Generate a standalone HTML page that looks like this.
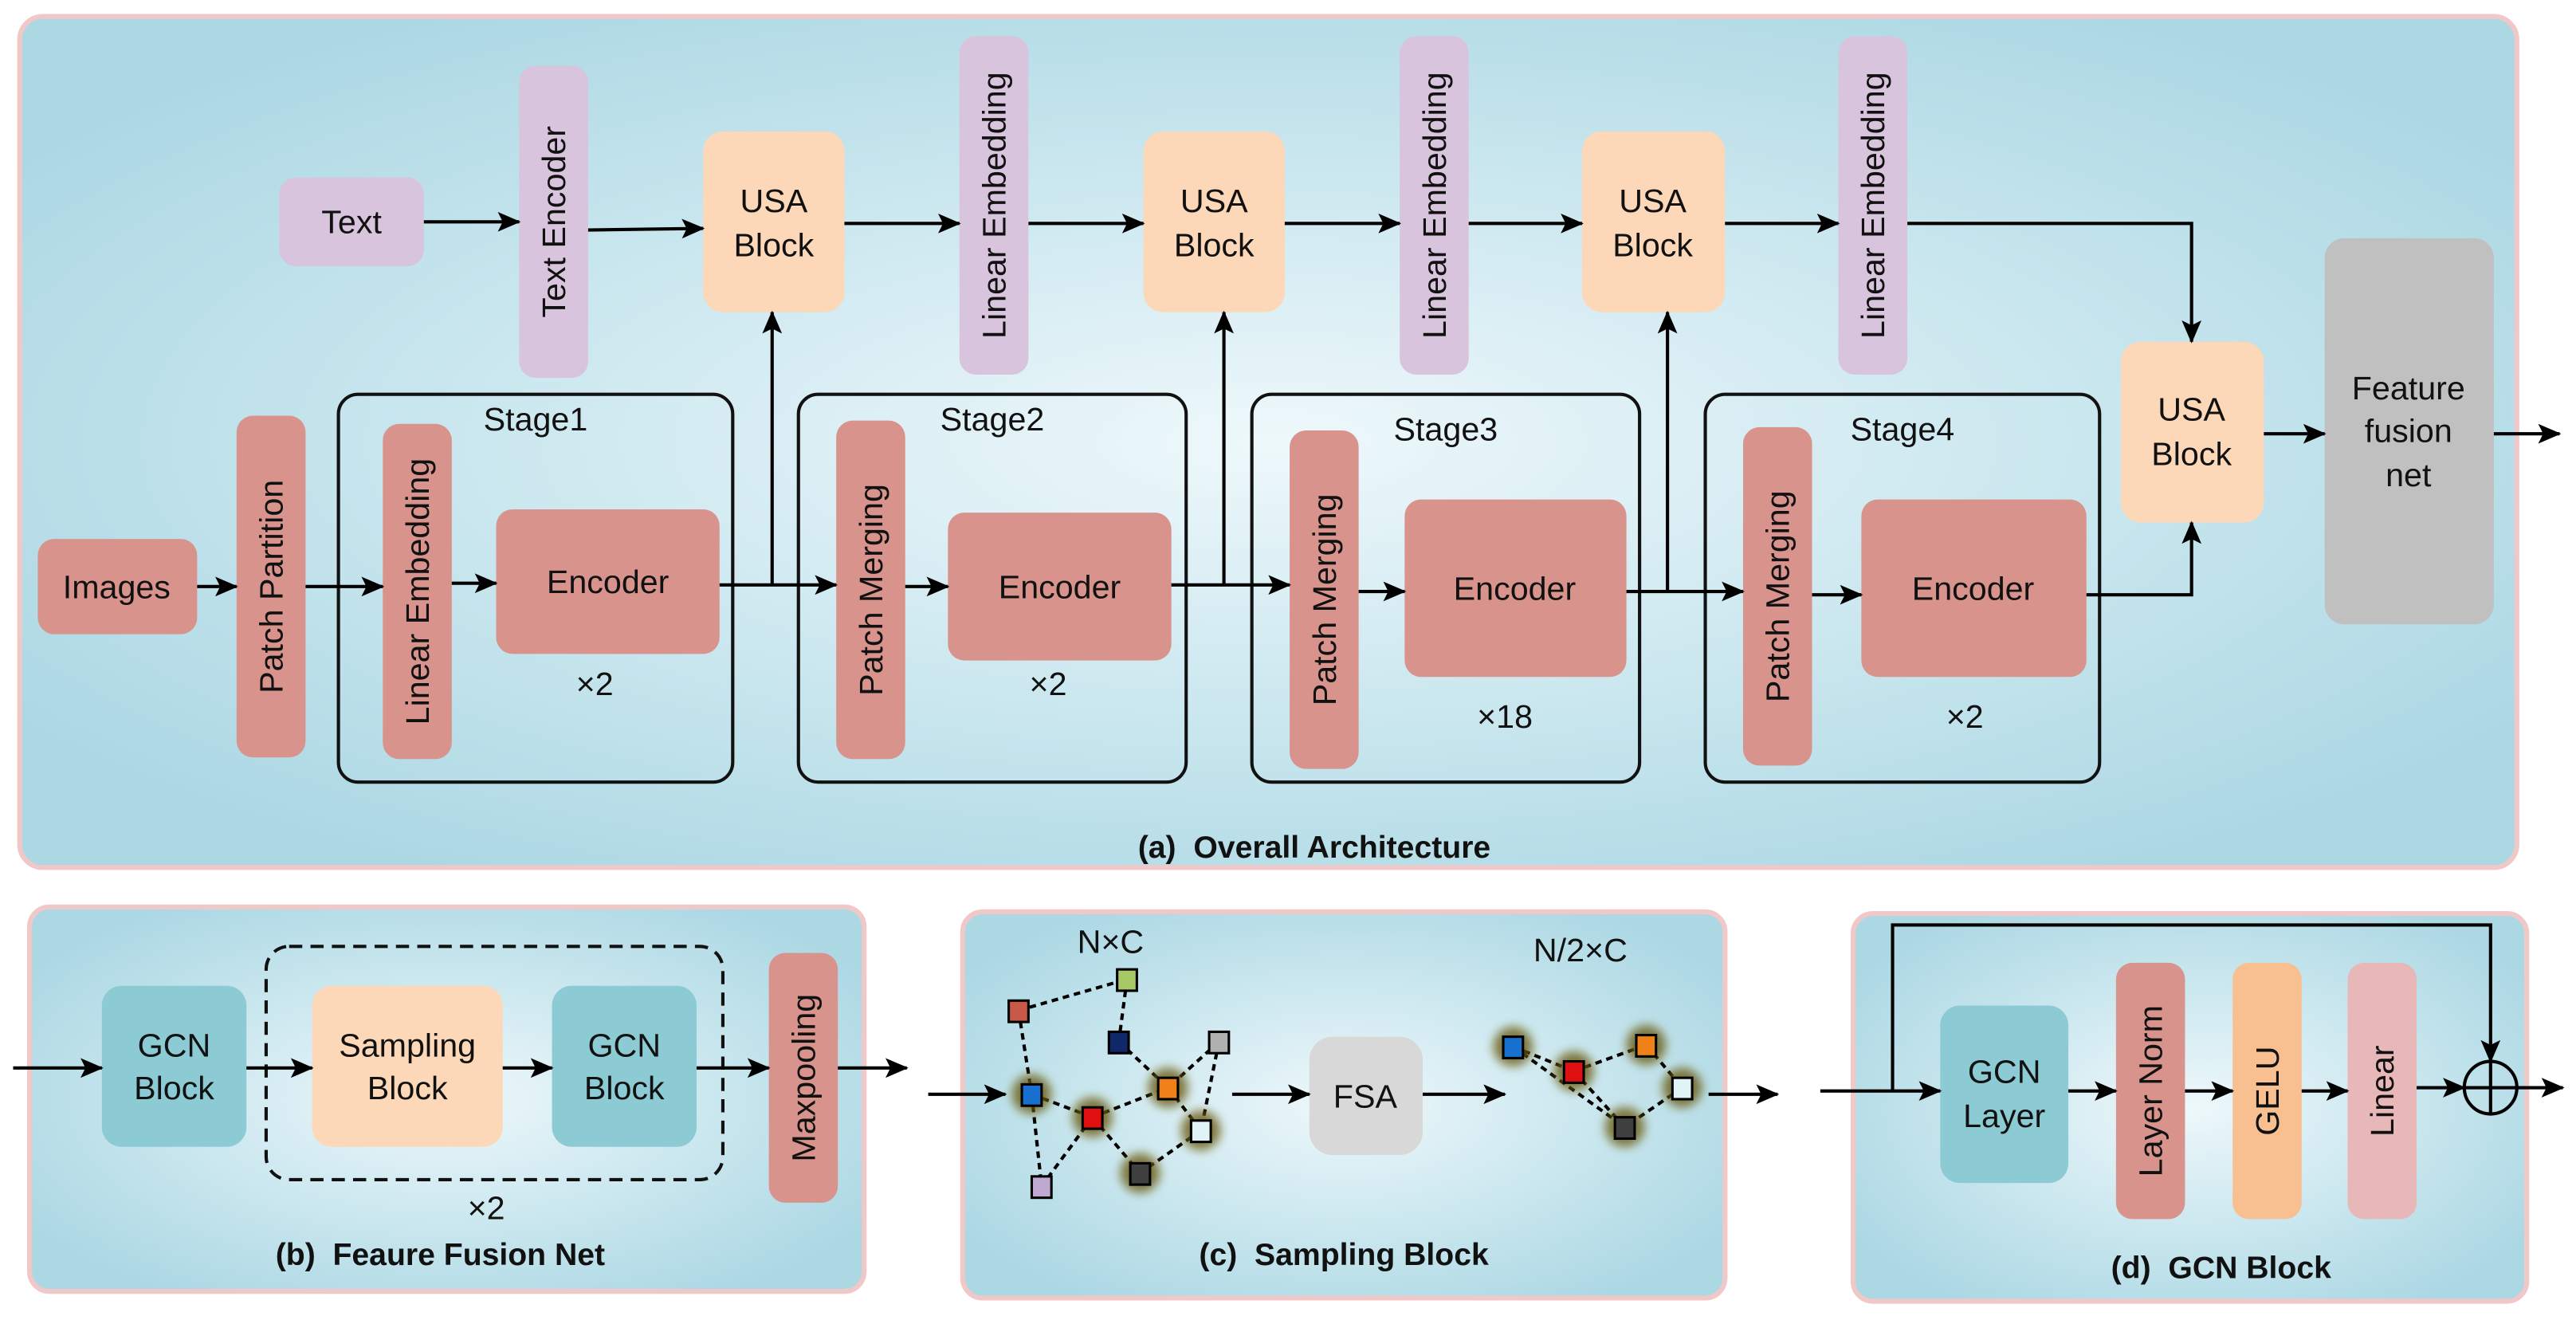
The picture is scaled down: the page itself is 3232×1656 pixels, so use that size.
<!DOCTYPE html>
<html><head><meta charset="utf-8"><style>body{margin:0;background:#fff}svg{display:block}text{font-family:"Liberation Sans",sans-serif;fill:#111}</style></head><body>
<svg width="3232" height="1656" viewBox="0 0 1568 803.4" xmlns="http://www.w3.org/2000/svg">
<defs>
<radialGradient id="bg" cx="50%" cy="50%" r="60%"><stop offset="0" stop-color="#eef8fb"/><stop offset="1" stop-color="#acd8e4"/></radialGradient>
<marker id="ah" markerWidth="14" markerHeight="12" refX="13" refY="6" orient="auto" markerUnits="userSpaceOnUse"><path d="M0,0 L14,6 L0,12 L3,6 Z" fill="#000"/></marker>
<filter id="gl" x="-1" y="-1" width="3" height="3"><feGaussianBlur stdDeviation="3"/></filter>
</defs>
<g stroke="#f0c8c8" stroke-width="3" fill="url(#bg)">
<rect x="12" y="10" width="1520" height="518" rx="14"/>
<rect x="18" y="552" width="508" height="234" rx="12"/>
<rect x="586" y="555" width="464" height="235" rx="12"/>
<rect x="1128" y="556" width="410" height="236" rx="12"/>
</g>
<g font-size="20" text-anchor="middle">
<rect x="170" y="108" width="88" height="54" rx="10" fill="#d8c4dc"/><text x="214" y="142">Text</text>
<rect x="316" y="40" width="42" height="190" rx="10" fill="#d8c4dc"/><text transform="translate(344,135) rotate(-90)">Text Encoder</text>
<g fill="#fcd8b8"><rect x="428" y="80" width="86" height="110" rx="12"/><rect x="696" y="80" width="86" height="110" rx="12"/><rect x="963" y="80" width="87" height="110" rx="12"/><rect x="1291" y="208" width="87" height="110" rx="12"/></g>
<text x="471" y="129">USA</text><text x="471" y="156">Block</text>
<text x="739" y="129">USA</text><text x="739" y="156">Block</text>
<text x="1006" y="129">USA</text><text x="1006" y="156">Block</text>
<text x="1334" y="256">USA</text><text x="1334" y="283">Block</text>
<g fill="#d8c4dc"><rect x="584" y="22" width="42" height="206" rx="10"/><rect x="852" y="22" width="42" height="206" rx="10"/><rect x="1119" y="22" width="42" height="206" rx="10"/></g>
<text transform="translate(612,125) rotate(-90)">Linear Embedding</text>
<text transform="translate(880,125) rotate(-90)">Linear Embedding</text>
<text transform="translate(1147,125) rotate(-90)">Linear Embedding</text>
<rect x="1415" y="145" width="103" height="235" rx="12" fill="#c0c0c0"/>
<text x="1466" y="243">Feature</text><text x="1466" y="269">fusion</text><text x="1466" y="296">net</text>
<g fill="none" stroke="#111" stroke-width="2"><rect x="206" y="240" width="240" height="236" rx="12"/><rect x="486" y="240" width="236" height="236" rx="12"/><rect x="762" y="240" width="236" height="236" rx="12"/><rect x="1038" y="240" width="240" height="236" rx="12"/></g>
<text x="326" y="262">Stage1</text><text x="604" y="262">Stage2</text><text x="880" y="268">Stage3</text><text x="1158" y="268">Stage4</text>
<g fill="#d8948c">
<rect x="23" y="328" width="97" height="58" rx="10"/>
<rect x="144" y="253" width="42" height="208" rx="10"/>
<rect x="233" y="258" width="42" height="204" rx="10"/>
<rect x="302" y="310" width="136" height="88" rx="10"/>
<rect x="509" y="256" width="42" height="206" rx="10"/>
<rect x="577" y="312" width="136" height="90" rx="10"/>
<rect x="785" y="262" width="42" height="206" rx="10"/>
<rect x="855" y="304" width="135" height="108" rx="10"/>
<rect x="1061" y="260" width="42" height="206" rx="10"/>
<rect x="1133" y="304" width="137" height="108" rx="10"/>
</g>
<text x="71" y="364">Images</text>
<text transform="translate(172,357) rotate(-90)">Patch Partition</text>
<text transform="translate(261,360) rotate(-90)">Linear Embedding</text>
<text x="370" y="361">Encoder</text><text x="362" y="423">×2</text>
<text transform="translate(537,359) rotate(-90)">Patch Merging</text>
<text x="645" y="364">Encoder</text><text x="638" y="423">×2</text>
<text transform="translate(813,365) rotate(-90)">Patch Merging</text>
<text x="922" y="365">Encoder</text><text x="916" y="443">×18</text>
<text transform="translate(1089,363) rotate(-90)">Patch Merging</text>
<text x="1201" y="365">Encoder</text><text x="1196" y="443">×2</text>
<text x="800" y="522" font-weight="bold" font-size="19">(a)&#160; Overall Architecture</text>
<rect x="62" y="600" width="88" height="98" rx="12" fill="#8ccad4"/><text x="106" y="643">GCN</text><text x="106" y="669">Block</text>
<rect x="162" y="576" width="278" height="142" rx="14" fill="none" stroke="#111" stroke-width="2" stroke-dasharray="8,5"/>
<rect x="190" y="600" width="116" height="98" rx="12" fill="#fcd8b8"/><text x="248" y="643">Sampling</text><text x="248" y="669">Block</text>
<rect x="336" y="600" width="88" height="98" rx="12" fill="#8ccad4"/><text x="380" y="643">GCN</text><text x="380" y="669">Block</text>
<text x="296" y="742">×2</text>
<rect x="468" y="580" width="42" height="152" rx="10" fill="#d8948c"/><text transform="translate(496,656) rotate(-90)">Maxpooling</text>
<text x="268" y="770" font-weight="bold" font-size="19">(b)&#160; Feaure Fusion Net</text>
<text x="676" y="580">N×C</text><text x="962" y="585">N/2×C</text>
<rect x="797" y="631" width="69" height="72" rx="14" fill="#d8d8d8"/><text x="831" y="674">FSA</text>
<text x="818" y="770" font-weight="bold" font-size="19">(c)&#160; Sampling Block</text>
<rect x="1181" y="612" width="78" height="108" rx="12" fill="#8ccad4"/><text x="1220" y="659">GCN</text><text x="1220" y="686">Layer</text>
<rect x="1288" y="586" width="42" height="156" rx="10" fill="#d8948c"/><text transform="translate(1316,664) rotate(-90)">Layer Norm</text>
<rect x="1359" y="586" width="42" height="156" rx="10" fill="#f8c090"/><text transform="translate(1387,664) rotate(-90)">GELU</text>
<rect x="1429" y="586" width="42" height="156" rx="10" fill="#e8b8b8"/><text transform="translate(1457,664) rotate(-90)">Linear</text>
<text x="1352" y="778" font-weight="bold" font-size="19">(d)&#160; GCN Block</text>
</g>
<g stroke="#000" stroke-width="2" fill="none" marker-end="url(#ah)">
<path d="M258,135H316"/><path d="M358,140L428,139"/><path d="M514,136H584"/><path d="M626,136H696"/><path d="M782,136H852"/><path d="M894,136H963"/><path d="M1050,136H1119"/>
<path d="M1161,136H1334V208"/>
<path d="M120,357H144"/><path d="M186,357H233"/><path d="M275,355H302"/>
<path d="M438,356H509"/><path d="M470,356V190"/>
<path d="M551,357H577"/><path d="M713,356H785"/><path d="M745,356V190"/>
<path d="M827,360H855"/><path d="M990,360H1061"/><path d="M1015,360V190"/>
<path d="M1103,362H1133"/><path d="M1270,362H1334V318"/>
<path d="M1378,264H1415"/><path d="M1518,264H1558"/>
<path d="M8,650H62"/><path d="M150,650H190"/><path d="M306,650H336"/><path d="M424,650H468"/><path d="M510,650H552"/>
<path d="M565,666H612"/><path d="M750,666H797"/><path d="M866,666H916"/><path d="M1040,666H1082"/>
<path d="M1108,664H1181"/><path d="M1259,664H1288"/><path d="M1330,664H1359"/><path d="M1401,664H1429"/><path d="M1471,662H1500"/><path d="M1532,662H1560"/>
<path d="M1152,664V563H1516V646"/>
</g>
<circle cx="1516" cy="662" r="16" fill="none" stroke="#000" stroke-width="2"/>
<path d="M1500,662H1532M1516,646V678" stroke="#000" stroke-width="2"/>
<g stroke="#000" stroke-width="2" stroke-dasharray="4,3" fill="none">
<path d="M620,615L686,596M620,615L628,666M686,596L681,634M681,634L711,662M742,634L711,662M742,634L731,688M628,666L665,680M628,666L634,722M665,680L634,722M665,680L711,662M665,680L694,714M711,662L731,688M731,688L694,714"/>
<path d="M921,637L958,652M958,652L1002,636M1002,636L1024,662M1024,662L989,686M921,637L989,686M958,652L989,686"/>
</g>
<g fill="#6b5a10" opacity="0.8" filter="url(#gl)">
<circle cx="628" cy="666" r="12"/><circle cx="665" cy="680" r="12"/><circle cx="711" cy="662" r="12"/><circle cx="731" cy="688" r="12"/><circle cx="694" cy="714" r="12"/>
<circle cx="921" cy="637" r="12"/><circle cx="958" cy="652" r="12"/><circle cx="1002" cy="636" r="12"/><circle cx="1024" cy="662" r="12"/><circle cx="989" cy="686" r="12"/>
</g>
<g stroke="#000" stroke-width="1.5">
<rect x="614" y="609" width="12" height="13" fill="#c85848"/>
<rect x="680" y="590" width="12" height="13" fill="#a8c868"/>
<rect x="675" y="628" width="12" height="13" fill="#102868"/>
<rect x="736" y="628" width="12" height="13" fill="#b0b0b0"/>
<rect x="622" y="660" width="12" height="13" fill="#1870d0"/>
<rect x="659" y="674" width="12" height="13" fill="#e01010"/>
<rect x="705" y="656" width="12" height="13" fill="#f08018"/>
<rect x="725" y="682" width="12" height="13" fill="#e0f4f8"/>
<rect x="628" y="716" width="12" height="13" fill="#c0a8d0"/>
<rect x="688" y="708" width="12" height="13" fill="#404040"/>
<rect x="915" y="631" width="12" height="13" fill="#1870d0"/>
<rect x="952" y="646" width="12" height="13" fill="#e01010"/>
<rect x="996" y="630" width="12" height="13" fill="#f08018"/>
<rect x="1018" y="656" width="12" height="13" fill="#e0f4f8"/>
<rect x="983" y="680" width="12" height="13" fill="#404040"/>
</g>
</svg>
</body></html>
